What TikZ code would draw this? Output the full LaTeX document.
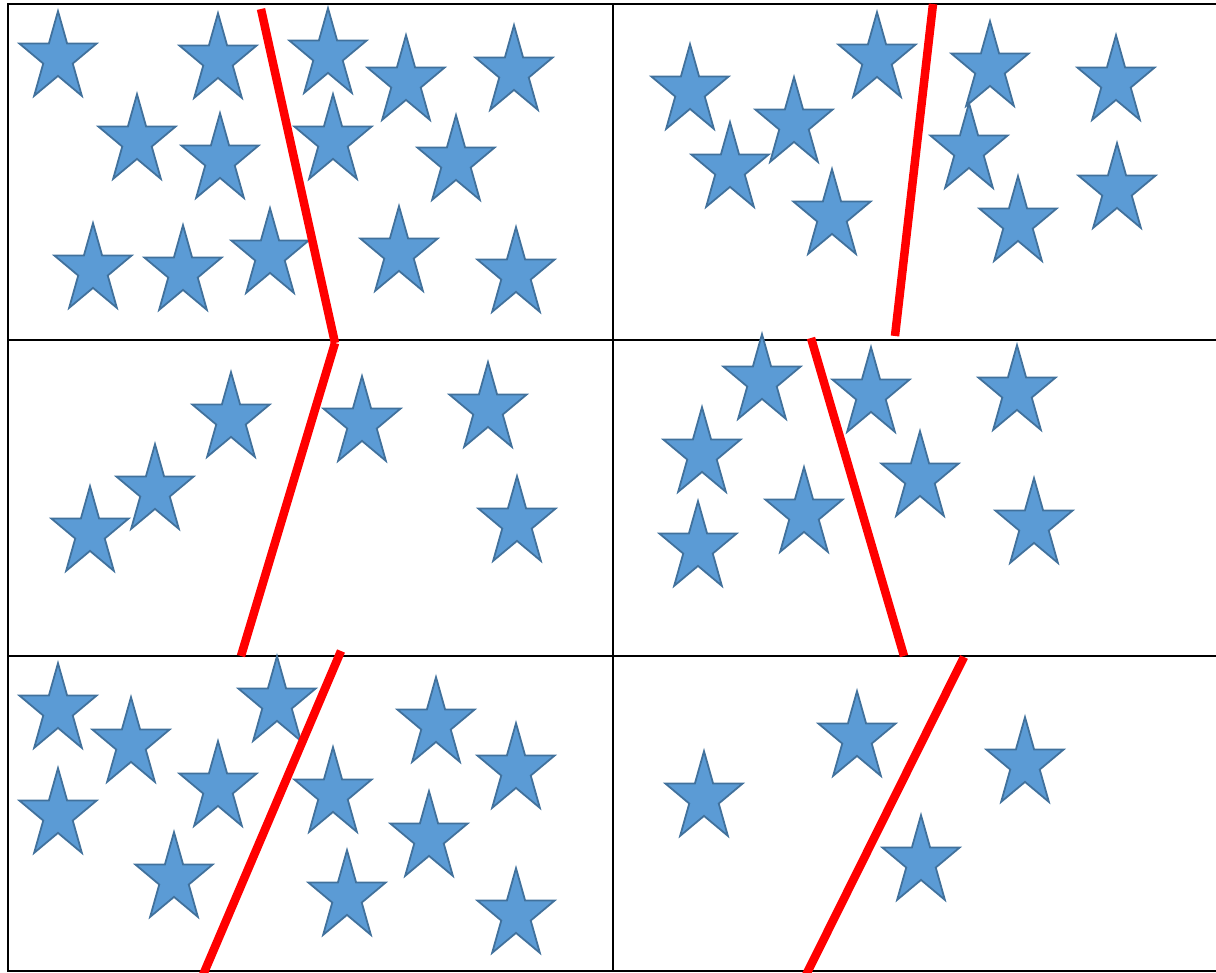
\documentclass[tikz,border=0pt]{standalone}
\usepackage{xcolor}
\definecolor{starfill}{HTML}{5B9BD5}
\definecolor{starrim}{HTML}{41719C}
\begin{document}
\begin{tikzpicture}[
    x=1pt,
    y=-1pt,
    grid/.style={
        draw=black,
        line width=2pt
    },
    starline/.style={
        draw=starrim,
        fill=starfill,
        line width=1.8pt
    },
    cut/.style={
        draw=red,
        line width=8.5pt
    },
    bluestar/.pic={
        \draw[starline] (270:40.6 and 46.8) -- (306:15.5 and 17.9)
            -- (342:40.6 and 46.8) -- (18:15.5 and 17.9)
            -- (54:40.6 and 46.8) -- (90:15.5 and 17.9)
            -- (126:40.6 and 46.8) -- (162:15.5 and 17.9)
            -- (198:40.6 and 46.8) -- (234:15.5 and 17.9) -- cycle;
    }
]
\useasboundingbox (0,0) rectangle (1216,973);

% panel borders
\draw[grid] (1216,4) -- (8,4) -- (8,971) -- (1216,971);
\draw[grid] (8,340) -- (1216,340);
\draw[grid] (8,656) -- (1216,656);
\draw[grid] (613,4) -- (613,971);

% stars: top row
\foreach \sx/\sy in {58/58, 218/60, 328/55, 406/82, 514/72,
                     137/141, 220/160, 333/141, 456/162,
                     93/270, 183/272, 270/255, 399/253, 516/274}
    \pic at (\sx,\sy) {bluestar};
\foreach \sx/\sy in {690/91, 877/59, 990/68, 1116/82, 794/124,
                     730/169, 969/150, 832/216, 1018/223, 1117/190}
    \pic at (\sx,\sy) {bluestar};

% stars: middle row
\foreach \sx/\sy in {231/419, 362/423, 488/409, 155/491, 90/533, 517/523}
    \pic at (\sx,\sy) {bluestar};
\foreach \sx/\sy in {762/381, 871/394, 1017/392, 702/454,
                     920/478, 804/514, 698/548, 1034/525}
    \pic at (\sx,\sy) {bluestar};

% stars: bottom row
\foreach \sx/\sy in {58/710, 277/703, 436/724, 131/744, 218/788, 333/794,
                     516/770, 58/815, 429/838, 174/879, 347/897, 516/915}
    \pic at (\sx,\sy) {bluestar};
\foreach \sx/\sy in {857/738, 1025/764, 704/798, 921/862}
    \pic at (\sx,\sy) {bluestar};

% red separating lines
\draw[cut] (261,9) -- (335,343);
\draw[cut] (933,4) -- (895,336);
\draw[cut] (335,343) -- (241,656);
\draw[cut] (811,338) -- (904,656);
\draw[cut] (341,651) -- (203,975);
\draw[cut] (964,657) -- (806,975);

\end{tikzpicture}
\end{document}
